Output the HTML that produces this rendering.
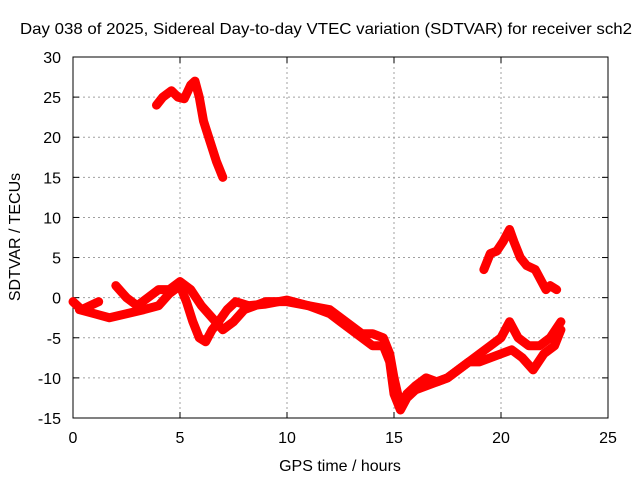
<!DOCTYPE html>
<html><head><meta charset="utf-8"><style>
body{margin:0;background:#fff}
svg text{font-family:"Liberation Sans",sans-serif;font-size:16px;fill:#000}
</style></head><body>
<svg width="640" height="480" xmlns="http://www.w3.org/2000/svg">
<g id="grid"></g>
<g id="axes"></g>
<g id="series"></g>
<text x="326" y="34" text-anchor="middle" textLength="612" lengthAdjust="spacingAndGlyphs">Day 038 of 2025, Sidereal Day-to-day VTEC variation (SDTVAR) for receiver sch2</text>
<text x="340" y="471" text-anchor="middle">GPS time / hours</text>
<text transform="translate(20,237) rotate(-90)" text-anchor="middle">SDTVAR / TECUs</text>
</svg>
<script>
const xTicks=[0,5,10,15,20,25];
const yTicks=[-15,-10,-5,0,5,10,15,20,25,30];
const trackA=[[3.9,24],[4.2,25],[4.6,25.8],[4.9,25],[5.2,24.8],[5.5,26.5],[5.7,27],[5.9,25],[6.1,22],[6.4,19.5],[6.7,17],[7.0,15]];
const trackB=[[19.2,3.5],[19.5,5.5],[19.8,5.8],[20.1,7],[20.4,8.5],[20.6,7],[20.9,5],[21.2,4],[21.6,3.5],[21.9,2],[22.1,1],[22.3,1.5],[22.6,1]];
const trackC=[[0,-0.5],[0.4,-1.5],[0.8,-1],[1.2,-0.5]];
const trackD=[[0.3,-1.5],[1,-2],[1.7,-2.5],[2.5,-2],[3.3,-1.5],[4,-1],[4.5,0.5],[5,1.5],[5.3,-0.5],[5.6,-3],[5.9,-5],[6.2,-5.5],[6.5,-4],[6.8,-3],[7.2,-1.5],[7.6,-0.5],[8.2,-1],[9,-0.8],[10,-0.3],[11,-1],[12,-1.5],[12.5,-2.5],[13,-3.5],[13.5,-4.5],[14,-4.5],[14.5,-5],[14.8,-7],[15,-10],[15.3,-13.5],[15.6,-12],[16,-11],[16.5,-10],[17,-10.5],[17.5,-10],[18,-9],[18.5,-8],[19,-7],[19.5,-6],[20,-5],[20.4,-3],[20.8,-5],[21.3,-6],[21.8,-6],[22.3,-5],[22.8,-3]];
const trackE=[[2,1.5],[2.5,0],[3,-1],[3.5,0],[4,1],[4.5,1],[5,2],[5.5,1],[6,-1],[6.5,-2.5],[7,-4],[7.5,-3],[8,-1.5],[9,-0.5],[10,-0.5],[11,-1],[12,-2],[12.5,-3],[13,-4],[13.5,-5],[14,-6],[14.5,-6],[14.8,-8],[15,-12],[15.3,-14],[15.6,-12.5],[16,-11.5],[16.5,-11],[17,-10.5],[17.5,-10],[18,-9],[18.5,-8],[19,-8],[19.5,-7.5],[20,-7],[20.5,-6.5],[21,-7.5],[21.5,-9],[22,-7],[22.5,-6],[22.8,-4]];
const X0=73,X1=608,Y0=418,Y1=57;
const sx=v=>X0+(v-0)/25*(X1-X0);
const sy=v=>Y0-(v+15)/45*(Y0-Y1);
const NS="http://www.w3.org/2000/svg";
function mk(tag,attrs,parent){const e=document.createElementNS(NS,tag);for(const k in attrs)e.setAttribute(k,attrs[k]);parent.appendChild(e);return e;}
const grid=document.getElementById('grid'),axes=document.getElementById('axes'),ser=document.getElementById('series');
xTicks.forEach(t=>{const x=sx(t);
 if(t>0&&t<25){const l=mk('line',{x1:x,x2:x,y1:Y1,y2:Y0,stroke:'#a0a0a0','stroke-dasharray':'2,3'},grid);}
 mk('line',{x1:x,x2:x,y1:Y0,y2:Y0-6,stroke:'#000'},axes);mk('line',{x1:x,x2:x,y1:Y1,y2:Y1+6,stroke:'#000'},axes);
 const tx=mk('text',{x:x,y:Y0+25,'text-anchor':'middle'},axes);tx.textContent=t;
 });
yTicks.forEach(t=>{const y=sy(t);
 if(t>-15&&t<30){const l=mk('line',{x1:X0,x2:X1,y1:y,y2:y,stroke:'#a0a0a0','stroke-dasharray':'2,3'},grid);}
 mk('line',{x1:X0,x2:X0+6,y1:y,y2:y,stroke:'#000'},axes);mk('line',{x1:X1,x2:X1-6,y1:y,y2:y,stroke:'#000'},axes);
 const tx=mk('text',{x:X0-12,y:y+6,'text-anchor':'end'},axes);tx.textContent=t;
 });
const fr=mk('rect',{x:X0,y:Y1,width:X1-X0,height:Y0-Y1,fill:'none',stroke:'#000'},axes);

[trackA,trackB,trackC,trackD,trackE].forEach((tr,i)=>{
 const p=mk('polyline',{points:tr.map(d=>sx(d[0])+','+sy(d[1])).join(' '),fill:'none',stroke:'#ff0000','stroke-width':9,'stroke-linejoin':'round','stroke-linecap':'round'},ser);
 
 });
</script>
</body></html>
